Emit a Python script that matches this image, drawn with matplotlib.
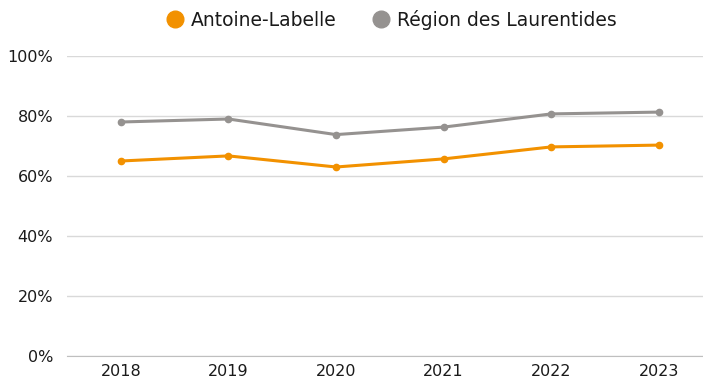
import matplotlib
matplotlib.use('Agg')
import matplotlib.pyplot as plt
from matplotlib.lines import Line2D
from matplotlib.ticker import FuncFormatter

# annual rates (%) by territory
years = ['2018', '2019', '2020', '2021', '2022', '2023']
antoine_labelle = [65.0, 66.7, 63.0, 65.7, 69.7, 70.3]
laurentides = [78.0, 79.0, 73.8, 76.3, 80.7, 81.3]

orange = '#F29100'
grey = '#959290'
plt.rcParams['font.family'] = ['DejaVu Sans']

fig = plt.figure(figsize=(7.03, 3.81), dpi=100)
ax = fig.add_axes([67/703, 1-356/381, 1-67/703, (356-56)/381])

x = range(len(years))
ax.plot(x, laurentides, color=grey, lw=2.2, marker='o', ms=4.5, zorder=3)
ax.plot(x, antoine_labelle, color=orange, lw=2.2, marker='o', ms=4.5, zorder=3)

ax.set_xlim(-0.5, 5.41)
ax.set_ylim(0, 100)
ax.set_yticks(range(0, 101, 20))
ax.yaxis.set_major_formatter(FuncFormatter(lambda v, p: '{:.0f}%'.format(v)))
ax.set_xticks(list(x))
ax.set_xticklabels(years)
ax.grid(axis='y', color='#D9D9D9', lw=1)
ax.set_axisbelow(True)
for s in ['top', 'right', 'left']:
    ax.spines[s].set_visible(False)
ax.spines['bottom'].set_color('#BFBFBF')
ax.tick_params(length=0, labelsize=11.5, colors='#1a1a1a')
ax.tick_params(axis='y', pad=10)
ax.tick_params(axis='x', pad=6)

handles = [Line2D([], [], ls='none', marker='o', ms=12, color=orange),
           Line2D([], [], ls='none', marker='o', ms=12, color=grey)]
fig.legend(handles, ['Antoine-Labelle', 'Région des Laurentides'],
           loc='center', bbox_to_anchor=(0.555, 1-20/381), ncol=2, frameon=False,
           fontsize=13.5, handletextpad=0.25, columnspacing=1.8, handlelength=1.2,
           labelcolor='#1a1a1a')

fig.savefig('out.png', dpi=100)
